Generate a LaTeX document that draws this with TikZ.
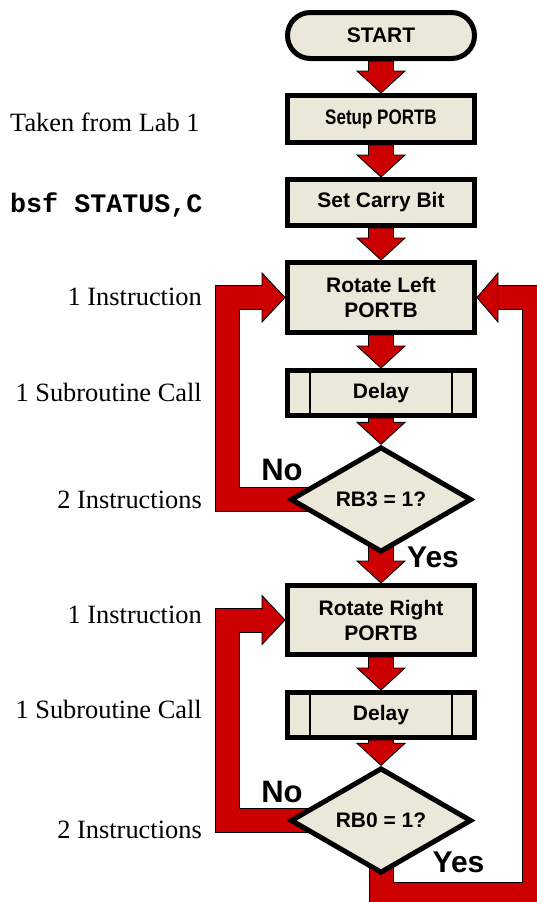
\documentclass[tikz,border=0pt]{standalone}
\usepackage{fontspec}
\setmainfont{Liberation Serif}
\newfontfamily\flowfont{Liberation Sans}
\newfontfamily\codefont{Liberation Mono}
\usetikzlibrary{shapes.geometric,calc}
\definecolor{flowred}{HTML}{CC0000}
\definecolor{boxfill}{HTML}{EBE7D9}
\pgfdeclarelayer{back}
\pgfsetlayers{back,main}

\tikzset{
  boxtext/.style={font=\flowfont\bfseries\fontsize{21}{25}\selectfont},
  procbox/.style={boxtext, draw=black, fill=boxfill, line width=5pt,
    minimum width=187pt, inner sep=0pt, align=center},
  termbox/.style={procbox, rounded corners=22.9pt, minimum height=46pt},
  decbox/.style={boxtext, diamond, draw=black, fill=boxfill, line width=5pt,
    minimum width=181pt, minimum height=92pt, inner sep=0pt},
  subline/.style={draw=black, line width=1.4pt},
  blockarrow/.style={fill=flowred, draw=black, line width=0.9pt, line join=miter},
  band/.style={draw=black, line width=25pt, line join=miter,
    postaction={draw=flowred, line width=23pt}},
  note/.style={font=\fontsize{26.4}{30}\selectfont, inner sep=0pt},
  codenote/.style={font=\codefont\bfseries\fontsize{26.7}{30}\selectfont, inner sep=0pt},
  answer/.style={font=\flowfont\bfseries\fontsize{30}{30}\selectfont, inner sep=0pt, anchor=base}
}

% block arrow pointing down from anchor #1 to anchor #2
\newcommand\blockdown[2]{%
  \path[blockarrow] let \p1=(#1), \p2=(#2) in
    ({\x2-12.5pt},\y1) -- ({\x2+12.5pt},\y1) -- ({\x2+12.5pt},{\y2+22pt})
    -- ({\x2+24pt},{\y2+22pt}) -- (\x2,\y2) -- ({\x2-24pt},{\y2+22pt})
    -- ({\x2-12.5pt},{\y2+22pt}) -- cycle;}

\begin{document}
\begin{tikzpicture}[x=1pt,y=-1pt]
\useasboundingbox (0,0) rectangle (536,902);
\clip (0,0) rectangle (536,902);

% flowchart steps
\node[termbox] (start) at (381,35.5) {START};
\node[procbox, minimum height=47pt] (setup) at (381,119) {\scalebox{0.81}[1]{Setup PORTB}};
\node[procbox, minimum height=46pt] (carry) at (381,202.5) {Set Carry Bit};
\node[procbox, minimum height=70pt] (rotl) at (381,297.5) {Rotate Left\\PORTB};
\node[procbox, minimum height=45pt] (delay1) at (381,393) {Delay};
\node[decbox] (dec1) at (381,499.5) {RB3 = 1?};
\node[procbox, minimum height=69pt] (rotr) at (381,620) {Rotate Right\\PORTB};
\node[procbox, minimum height=45pt] (delay2) at (381,715) {Delay};
\node[decbox] (dec2) at (381,820.5) {RB0 = 1?};

% subroutine side bars
\foreach \d in {delay1,delay2}{
  \draw[subline] ([xshift=25pt]\d.north west) -- ([xshift=25pt]\d.south west);
  \draw[subline] ([xshift=-25pt]\d.north east) -- ([xshift=-25pt]\d.south east);
}

% loop corner points
\coordinate (lx) at (227.5,0);
\coordinate (rc) at (534.5,894.5);

\begin{pgfonlayer}{back}
  \blockdown{start.south}{setup.north}
  \blockdown{setup.south}{carry.north}
  \blockdown{carry.south}{rotl.north}
  \blockdown{rotl.south}{delay1.north}
  \blockdown{delay1.south}{dec1.north}
  \blockdown{dec1.center}{rotr.north}
  \blockdown{rotr.south}{delay2.north}
  \blockdown{delay2.south}{dec2.north}

  % "No" branch of RB3 back to Rotate Left
  \path[blockarrow] ([xshift=-23pt,yshift=24.5pt]rotl.west) -- (rotl.west)
    -- ([xshift=-23pt,yshift=-24.5pt]rotl.west) -- cycle;
  \draw[band] (dec1.center) -- (lx |- dec1.center) -- (lx |- rotl.west)
    -- ([xshift=-22.5pt]rotl.west);

  % "No" branch of RB0 back to Rotate Right
  \path[blockarrow] ([xshift=-23pt,yshift=24.5pt]rotr.west) -- (rotr.west)
    -- ([xshift=-23pt,yshift=-24.5pt]rotr.west) -- cycle;
  \draw[band] (dec2.center) -- (lx |- dec2.center) -- (lx |- rotr.west)
    -- ([xshift=-22.5pt]rotr.west);

  % "Yes" branch of RB0 back to Rotate Left
  \path[blockarrow] ([xshift=21pt,yshift=24.5pt]rotl.east) -- (rotl.east)
    -- ([xshift=21pt,yshift=-24.5pt]rotl.east) -- cycle;
  \draw[band] (dec2.center) -- (dec2.center |- rc) -- (rc) -- (rc |- rotl.east)
    -- ([xshift=20.5pt]rotl.east);
\end{pgfonlayer}

% branch labels
\node[answer, font=\flowfont\bfseries\fontsize{31}{31}\selectfont] (no1) at (282,480) {No};
\node[answer] (yes1) at (433,567) {Yes};
\node[answer, font=\flowfont\bfseries\fontsize{31}{31}\selectfont] (no2) at (282,802) {No};
\node[answer] (yes2) at (458.5,872) {Yes};

% side notes
\node[note, anchor=base west] (n1) at (10,131) {Taken from Lab 1};
\node[codenote, anchor=base west] (n2) at (10,212) {bsf STATUS,C};
\node[note, anchor=base east] (n3) at (202,305) {1 Instruction};
\node[note, anchor=base east] (n4) at (202,401) {1 Subroutine Call};
\node[note, anchor=base east] (n5) at (202,508) {2 Instructions};
\node[note, anchor=base east] (n6) at (202,623) {1 Instruction};
\node[note, anchor=base east] (n7) at (202,718) {1 Subroutine Call};
\node[note, anchor=base east] (n8) at (202,838) {2 Instructions};
\end{tikzpicture}
\end{document}
